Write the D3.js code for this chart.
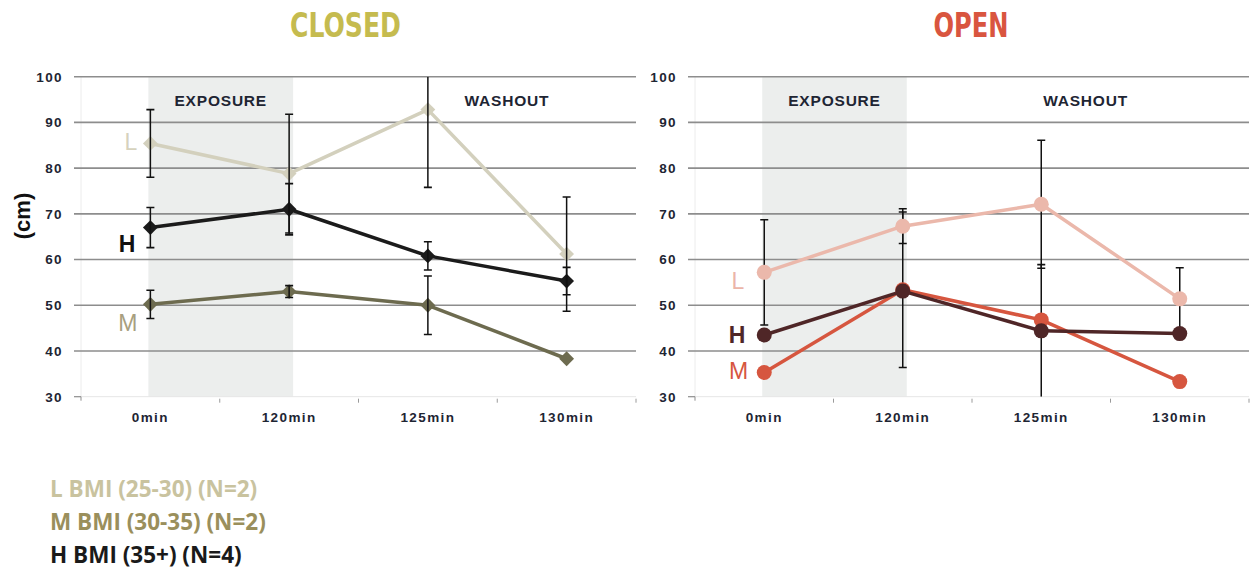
<!DOCTYPE html>
<html>
<head>
<meta charset="utf-8">
<script src="https://cdn.jsdelivr.net/npm/d3@7"></script>
<style>
  html, body { margin: 0; padding: 0; background: #fff; }
  svg { display: block; }
</style>
</head>
<body>
<svg id="chart" width="1252" height="570"></svg>
<script>
// ---- data ----
const categories = ["0min", "120min", "125min", "130min"];
const yTicks = [30, 40, 50, 60, 70, 80, 90, 100];
const seriesNames = ["L", "H", "M"];

// CLOSED condition: mean and error per time point
const closedL = [85.4, 78.8, 92.8, 61.2];
const closedLErr = [7.4, 13.0, 17.0, 12.5];
const closedH = [67.0, 71.0, 60.8, 55.3];
const closedHErr = [4.4, 5.6, 3.1, 3.0];
const closedM = [50.2, 53.0, 50.0, 38.3];
const closedMErr = [3.1, 1.3, 6.4, 0];

// OPEN condition
const openL = [57.2, 67.3, 72.1, 51.4];
const openLErr = [11.5, 3.8, 14.0, 6.8];
const openH = [43.5, 53.1, 44.4, 43.8];
const openHErr = [0, 0, 14.5, 0];
const openM = [35.3, 53.4, 46.8, 33.3];
const openMErr = [0, 17.0, 0, 0];

const legendLabels = ["L BMI (25-30) (N=2)", "M BMI (30-35) (N=2)", "H BMI (35+) (N=4)"];

// ---- layout ----
const svg = d3.select("#chart");
const yTop = 76.7, yBottom = 396.7;
const y = d3.scaleLinear().domain([30, 100]).range([yBottom, yTop]);

const panels = [
  {
    title: "CLOSED", titleColor: "#c5bb4f", titleWidth: 111,
    x0: 81, x1: 636, marker: "diamond", errorOnTop: true,
    washoutShift: 0.57,
    series: {
      L: { values: closedL, err: closedLErr, color: "#d3d0bd", labelColor: "#d6d2bd", weight: "normal", dy: 7, dx: -13 },
      H: { values: closedH, err: closedHErr, color: "#1b1b1b", labelColor: "#111111", weight: "bold", dy: 24, dx: -15 },
      M: { values: closedM, err: closedMErr, color: "#6d6b4f", labelColor: "#a89f80", weight: "normal", dy: 27, dx: -13 }
    }
  },
  {
    title: "OPEN", titleColor: "#d9553f", titleWidth: 75,
    x0: 695, x1: 1249, marker: "circle", errorOnTop: false,
    washoutShift: 0.32,
    series: {
      L: { values: openL, err: openLErr, color: "#ebb8ab", labelColor: "#ebb5a8", weight: "normal", dy: 17, dx: -20 },
      H: { values: openH, err: openHErr, color: "#4f2627", labelColor: "#4f2627", weight: "bold", dy: 8, dx: -19 },
      M: { values: openM, err: openMErr, color: "#d6563f", labelColor: "#d6563f", weight: "normal", dy: 7, dx: -16 }
    }
  }
];

const tickFont = "'Liberation Sans', Arial, sans-serif";
const tickColor = "#1e2533";

panels.forEach((p, pi) => {
  const x = d3.scaleBand().domain(categories).range([p.x0, p.x1]).padding(0);
  const cx = c => x(c) + x.bandwidth() / 2;
  const g = svg.append("g");

  // exposure shading
  const shadeL = cx(categories[0]) - 2, shadeR = cx(categories[1]) + 4;
  g.append("rect")
    .attr("x", shadeL).attr("y", yTop)
    .attr("width", shadeR - shadeL).attr("height", yBottom - yTop)
    .attr("fill", "#eceeed");

  // light frame: left edge and baseline
  g.append("line").attr("x1", p.x0).attr("x2", p.x0).attr("y1", yTop).attr("y2", yBottom)
    .attr("stroke", "#ececec").attr("stroke-width", 1);
  g.append("line").attr("x1", p.x0).attr("x2", p.x1).attr("y1", yBottom).attr("y2", yBottom)
    .attr("stroke", "#e6e6e6").attr("stroke-width", 1);

  // gridlines
  g.selectAll(".grid").data(yTicks.filter(t => t > 30)).join("line")
    .attr("x1", p.x0 - 7).attr("x2", p.x1)
    .attr("y1", d => y(d)).attr("y2", d => y(d))
    .attr("stroke", "#8d8d8d").attr("stroke-width", 1.6);
  g.append("line").attr("x1", p.x0 - 7).attr("x2", p.x0).attr("y1", yBottom).attr("y2", yBottom)
    .attr("stroke", "#8d8d8d").attr("stroke-width", 1.2);
  g.append("line").attr("x1", p.x0).attr("x2", p.x0).attr("y1", yBottom).attr("y2", yBottom + 4)
    .attr("stroke", "#8d8d8d").attr("stroke-width", 1);

  // y tick labels
  g.selectAll(".ytl").data(yTicks).join("text")
    .attr("x", p.x0 - 18).attr("y", d => y(d)).attr("dy", "0.36em")
    .attr("text-anchor", "end")
    .attr("font-family", tickFont).attr("font-weight", "bold").attr("font-size", 13.5)
    .attr("letter-spacing", 1.4).attr("fill", tickColor)
    .text(d => d);

  // category boundary ticks
  g.selectAll(".xt").data(categories.slice(1).concat(["_end"])).join("line")
    .attr("x1", (d, i) => p.x0 + (i + 1) * x.bandwidth())
    .attr("x2", (d, i) => p.x0 + (i + 1) * x.bandwidth())
    .attr("y1", yBottom + 2).attr("y2", yBottom + 6)
    .attr("stroke", "#9a9a9a").attr("stroke-width", 1);

  // x labels
  g.selectAll(".xl").data(categories).join("text")
    .attr("x", d => cx(d)).attr("y", 422)
    .attr("text-anchor", "middle")
    .attr("font-family", tickFont).attr("font-weight", "bold").attr("font-size", 13.5)
    .attr("letter-spacing", 1.4).attr("fill", tickColor)
    .text(d => d);

  // phase labels
  g.append("text").attr("x", (shadeL + shadeR) / 2).attr("y", 105.5)
    .attr("text-anchor", "middle")
    .attr("font-family", tickFont).attr("font-weight", "bold").attr("font-size", 15.5)
    .attr("letter-spacing", 0.8).attr("fill", "#1e2533")
    .text("EXPOSURE");
  g.append("text").attr("x", cx(categories[2]) + p.washoutShift * x.bandwidth()).attr("y", 105.5)
    .attr("text-anchor", "middle")
    .attr("font-family", tickFont).attr("font-weight", "bold").attr("font-size", 15.5)
    .attr("letter-spacing", 0.8).attr("fill", "#1e2533")
    .text("WASHOUT");

  // title
  g.append("text").attr("x", (p.x0 + p.x1) / 2 - (pi === 0 ? 13 : 1)).attr("y", 37)
    .attr("text-anchor", "middle")
    .attr("font-family", "'Liberation Sans Narrow', 'DejaVu Sans Condensed', 'Liberation Sans', sans-serif")
    .attr("font-weight", "bold").attr("font-size", 33)
    .attr("textLength", p.titleWidth).attr("lengthAdjust", "spacingAndGlyphs")
    .attr("fill", p.titleColor)
    .text(p.title);

  // series
  const line = d3.line().x((d, i) => cx(categories[i])).y(d => y(d));
  const clipId = "clip" + pi;
  svg.append("clipPath").attr("id", clipId).append("rect")
    .attr("x", p.x0 - 10).attr("y", yTop).attr("width", p.x1 - p.x0 + 20).attr("height", yBottom - yTop);

  const drawLines = () => seriesNames.slice().reverse().forEach(name => {
    const s = p.series[name];
    g.append("path").datum(s.values).attr("d", line)
      .attr("fill", "none").attr("stroke", s.color).attr("stroke-width", 3.5)
      .attr("stroke-linejoin", "round");
  });

  const drawErrors = () => {
    const eg = g.append("g").attr("clip-path", `url(#${clipId})`);
    seriesNames.forEach(name => {
      const s = p.series[name];
      s.values.forEach((v, i) => {
        const e = s.err[i];
        if (!e) return;
        const lo = v - e, hi = v + e;
        const xc = cx(categories[i]);
        eg.append("line").attr("x1", xc).attr("x2", xc)
          .attr("y1", y(Math.max(lo, 30))).attr("y2", y(Math.min(hi, 100)))
          .attr("stroke", "#111").attr("stroke-width", 1.5);
        [lo, hi].forEach(b => {
          if (b <= 30 || b >= 100) return;
          eg.append("line").attr("x1", xc - 4).attr("x2", xc + 4)
            .attr("y1", y(b)).attr("y2", y(b))
            .attr("stroke", "#111").attr("stroke-width", 1.6);
        });
      });
    });
  };

  const drawMarkers = () => seriesNames.slice().reverse().forEach(name => {
    const s = p.series[name];
    if (p.marker === "circle") {
      g.selectAll(null).data(s.values).join("circle")
        .attr("cx", (d, i) => cx(categories[i])).attr("cy", d => y(d))
        .attr("r", 7.5).attr("fill", s.color);
    } else {
      const sym = d3.symbol().type(d3.symbolSquare).size(110);
      g.selectAll(null).data(s.values).join("path")
        .attr("d", sym)
        .attr("transform", (d, i) => `translate(${cx(categories[i])},${y(d)}) rotate(45)`)
        .attr("fill", s.color);
    }
  });

  drawLines();
  if (p.errorOnTop) { drawMarkers(); drawErrors(); }
  else { drawErrors(); drawMarkers(); }

  // series letters beside the first point
  seriesNames.forEach(name => {
    const s = p.series[name];
    g.append("text")
      .attr("x", cx(categories[0]) + s.dx).attr("y", y(s.values[0]) + s.dy)
      .attr("text-anchor", "end")
      .attr("font-family", tickFont).attr("font-weight", s.weight).attr("font-size", 23)
      .attr("fill", s.labelColor)
      .text(name);
  });
});

// y axis title
svg.append("text")
  .attr("transform", "translate(30,216) rotate(-90)")
  .attr("text-anchor", "middle")
  .attr("font-family", tickFont).attr("font-weight", "bold").attr("font-size", 22)
  .attr("fill", "#111")
  .text("(cm)");

// legend
const legendColors = ["#c9c39f", "#9a8f5c", "#1a1a1a"];
svg.selectAll(".legend").data(legendLabels).join("text")
  .attr("x", 50).attr("y", (d, i) => 497 + i * 33)
  .attr("font-family", "'Open Sans', Lato, sans-serif").attr("font-weight", 700).attr("font-size", 22.5)
  .attr("fill", (d, i) => legendColors[i])
  .text(d => d);
</script>
</body>
</html>
